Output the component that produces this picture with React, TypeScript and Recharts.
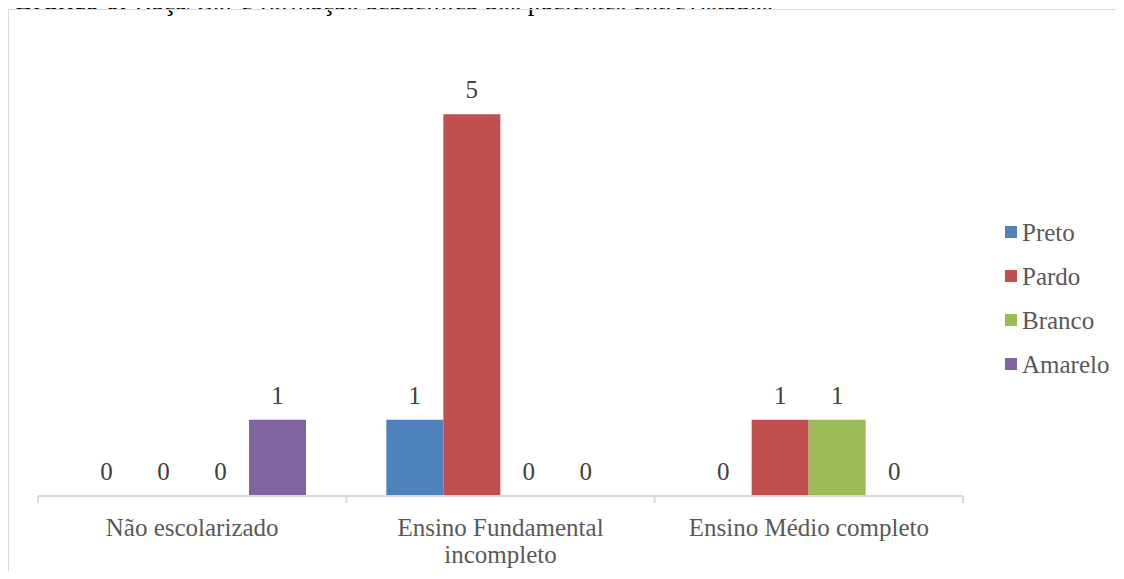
import React from 'react';
import { BarChart, Bar, XAxis, YAxis, Legend, LabelList } from 'recharts';

// Education level categories
const categories = ['Não escolarizado', 'Ensino Fundamental incompleto', 'Ensino Médio completo'];

// Number of patients per race/colour in each education level
const preto = [0, 1, 0];
const pardo = [0, 5, 1];
const branco = [0, 0, 1];
const amarelo = [1, 0, 0];

const seriesNames = ['Preto', 'Pardo', 'Branco', 'Amarelo'];
const seriesColors = ['#4f81bd', '#c0504d', '#9bbb59', '#8064a2'];
const seriesKeys = ['preto', 'pardo', 'branco', 'amarelo'];

const data = categories.map((name, i) => ({
  name,
  preto: preto[i],
  pardo: pardo[i],
  branco: branco[i],
  amarelo: amarelo[i],
}));

const FONT = "'Liberation Serif', 'Times New Roman', serif";
const FONT_SIZE = 25;
const AXIS_COLOR = '#d9d9d9';
const LABEL_OFFSET = 16;

// Greedy word wrap using canvas text metrics
let ctx: CanvasRenderingContext2D | null = null;
const wrapWords = (text: string, maxWidth: number): string[] => {
  if (!ctx) ctx = document.createElement('canvas').getContext('2d');
  if (!ctx) return [text];
  ctx.font = `${FONT_SIZE}px ${FONT}`;
  const words = text.split(' ');
  const lines: string[] = [];
  let cur = '';
  words.forEach((w) => {
    const next = cur ? `${cur} ${w}` : w;
    if (cur && ctx!.measureText(next).width > maxWidth) {
      lines.push(cur);
      cur = w;
    } else {
      cur = next;
    }
  });
  if (cur) lines.push(cur);
  return lines;
};

// Category label plus the boundary tick marks between categories
const CategoryTick = (props: any) => {
  const { x, y, payload, index, visibleTicksCount } = props;
  const half = payload.offset ?? 154;
  const lineY = y - 8;
  const lines = wrapWords(String(payload.value), 270);
  return (
    <g>
      <line x1={x - half} x2={x - half} y1={lineY} y2={lineY + 7} stroke={AXIS_COLOR} strokeWidth={2} />
      {index === visibleTicksCount - 1 && (
        <line x1={x + half} x2={x + half} y1={lineY} y2={lineY + 7} stroke={AXIS_COLOR} strokeWidth={2} />
      )}
      <text x={x} y={y + 32} textAnchor="middle" fill="#595959" style={{ fontFamily: FONT, fontSize: FONT_SIZE }}>
        {lines.map((l, i) => (
          <tspan key={i} x={x} dy={i === 0 ? 0 : 27}>
            {l}
          </tspan>
        ))}
      </text>
    </g>
  );
};

// Value label drawn above each bar (zero-value bars included)
const ValueLabel = (props: any) => {
  const { x, y, width, value } = props;
  return (
    <text
      x={Number(x) + Number(width) / 2}
      y={Number(y) - LABEL_OFFSET}
      textAnchor="middle"
      fill="#404040"
      style={{ fontFamily: FONT, fontSize: FONT_SIZE }}
    >
      {value}
    </text>
  );
};

// Keeps zero-value bars in the layout (so their "0" label is placed) without a visible height
const keepZeroBar = (value: number) => (value === 0 ? 0.01 : 0);

const LegendContent = () => (
  <div style={{ fontFamily: FONT, fontSize: FONT_SIZE, color: '#595959' }}>
    {seriesNames.map((n, i) => (
      <div key={n} style={{ height: 44, display: 'flex', alignItems: 'center' }}>
        <span style={{ width: 12, height: 12, background: seriesColors[i], display: 'inline-block', marginRight: 5 }} />
        <span style={{ lineHeight: '25px' }}>{n}</span>
      </div>
    ))}
  </div>
);

export default function App() {
  return (
    <div style={{ position: 'relative', width: 1124, height: 579, margin: -8, overflow: 'hidden', background: '#fff' }}>
      <div
        style={{
          position: 'absolute',
          left: 12,
          top: -12,
          fontFamily: FONT,
          fontSize: 26.5,
          lineHeight: '26.5px',
          color: '#000',
          whiteSpace: 'nowrap',
        }}
      >
        <b>Gráfico 6:</b> Raça/Cor e formação acadêmica dos pacientes entrevistados
      </div>
      <div
        style={{
          position: 'absolute',
          left: 8,
          top: 9,
          width: 1200,
          height: 700,
          border: `1px solid ${AXIS_COLOR}`,
        }}
      />
      <div style={{ position: 'absolute', left: 0, top: 0 }}>
        <BarChart
          width={1124}
          height={579}
          data={data}
          margin={{ top: 38, right: 37, bottom: 23, left: 38 }}
          barGap={0}
          barCategoryGap={40}
        >
          <XAxis
            dataKey="name"
            axisLine={{ stroke: AXIS_COLOR, strokeWidth: 2 }}
            tickLine={false}
            tick={<CategoryTick />}
            height={60}
            interval={0}
          />
          <YAxis hide domain={[0, 6]} />
          <Legend
            layout="vertical"
            align="right"
            verticalAlign="top"
            content={<LegendContent />}
            wrapperStyle={{ left: 1005, top: 210, width: 124 }}
          />
          {seriesKeys.map((k, i) => (
            <Bar
              key={k}
              dataKey={k}
              name={seriesNames[i]}
              fill={seriesColors[i]}
              isAnimationActive={false}
              minPointSize={keepZeroBar}
            >
              <LabelList dataKey={k} content={<ValueLabel />} />
            </Bar>
          ))}
        </BarChart>
      </div>
    </div>
  );
}
